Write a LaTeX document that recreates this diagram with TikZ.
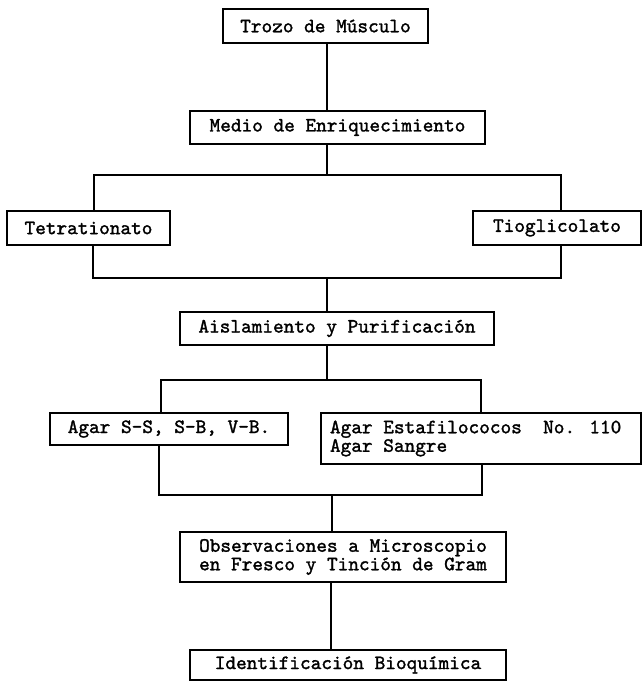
\documentclass[tikz,border=0pt]{standalone}
\usepackage{fontspec}
\newfontfamily\refmono{lmmono10-regular.otf}[FakeBold=1.5]
\begin{document}
\begin{tikzpicture}[x=1pt,y=-1pt,
  box/.style={draw, line width=1.5pt, inner sep=0pt, font=\refmono\fontsize{20.3}{18.5}\selectfont},
  link/.style={line width=1.5pt, line cap=rect}]
\useasboundingbox (0,0) rectangle (643,681);
% boxes
\node[box, minimum width=205pt, minimum height=34pt] (b1) at (325.5,26) {Trozo de Músculo};
\node[box, minimum width=295pt, minimum height=33pt] (b2) at (337.5,127.5) {Medio de Enriquecimiento};
\node[box, minimum width=163pt, minimum height=34pt] (tet) at (88.5,228) {Tetrationato};
\node[box, minimum width=168pt, minimum height=34pt] (tio) at (557,228) {Tioglicolato};
\node[box, minimum width=314pt, minimum height=33pt] (ais) at (337,328.5) {Aislamiento y Purificación};
\node[box, minimum width=238pt, minimum height=32pt] (ss) at (169,429) {Agar S-S, S-B, V-B.};
\node[box, minimum width=320pt, minimum height=51pt, align=left] (est) at (481,438.5) {Agar Estafilococos\ \ No. 110\\Agar Sangre\hphantom{ilococos\ \ No. 110}};
\node[box, minimum width=326pt, minimum height=50pt, align=center] (obs) at (343,557) {Observaciones a Microscopio\\en Fresco y Tinción de Gram};
\node[box, minimum width=316pt, minimum height=30pt] (idf) at (348,665) {Identificación Bioquímica};
% junction points
\coordinate (t1l) at (94,175);
\coordinate (t1c) at (327,175);
\coordinate (t1r) at (561,175);
\coordinate (t2l) at (93,278);
\coordinate (t2c) at (327,278);
\coordinate (t2r) at (561,278);
\coordinate (t3l) at (161,380);
\coordinate (t3c) at (327,380);
\coordinate (t3r) at (481,380);
\coordinate (t4l) at (159,495);
\coordinate (t4c) at (332,495);
\coordinate (t4r) at (482,495);
\coordinate (t5) at (331,615);
% connectors
\draw[link] (b1.south -| t1c) -- (b2.north -| t1c);
\draw[link] (b2.south -| t1c) -- (t1c);
\draw[link] (tet.north -| t1l) -- (t1l) -- (t1r) -- (tio.north -| t1r);
\draw[link] (tet.south -| t2l) -- (t2l) -- (t2r) -- (tio.south -| t2r);
\draw[link] (t2c) -- (ais.north -| t2c);
\draw[link] (ais.south -| t3c) -- (t3c);
\draw[link] (ss.north -| t3l) -- (t3l) -- (t3r) -- (est.north -| t3r);
\draw[link] (ss.south -| t4l) -- (t4l) -- (t4r) -- (est.south -| t4r);
\draw[link] (t4c) -- (obs.north -| t4c);
\draw[link] (obs.south -| t5) -- (idf.north -| t5);
\end{tikzpicture}
\end{document}
